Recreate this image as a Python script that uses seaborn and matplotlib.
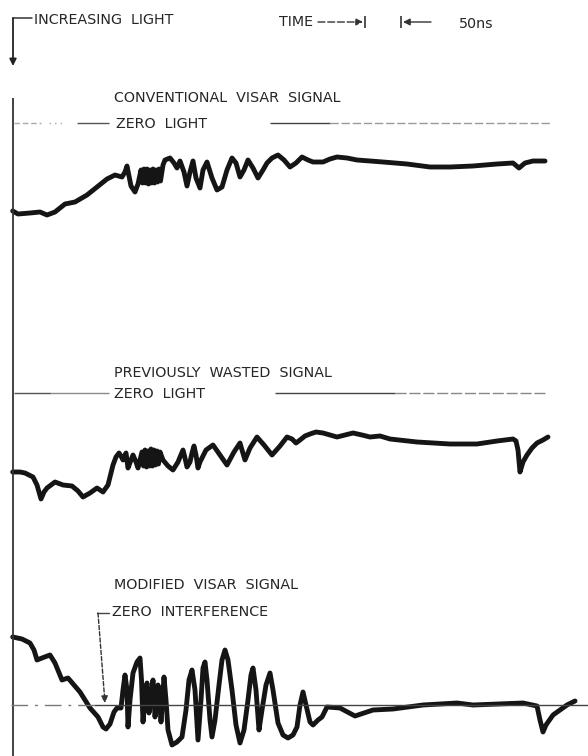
import matplotlib
matplotlib.use("Agg")
import matplotlib.pyplot as plt
import numpy as np
import pandas as pd
import seaborn as sns

# ---- traced signals (horizontal position, vertical level; level grows downward) ----
conv_t = [12.7, 18, 30, 40, 47, 55, 65, 75, 87, 97, 107, 115, 122, 125, 127, 129, 131, 135, 138,
          141, 142.5, 144, 145.5, 147, 148.5, 150, 151.5, 153, 154.5, 156, 157.5, 159, 160.5,
          163, 165, 170, 174, 177, 180, 184, 187, 190, 193, 196, 200, 203, 207, 212, 217, 222,
          227, 232, 236, 240, 244, 248, 253, 258, 263, 267, 272, 278, 284, 290, 296, 302, 308,
          313, 323, 330, 337, 347, 357, 383, 407, 430, 450, 473, 497, 513, 519, 525, 533, 545]
conv_v = [211, 214, 213, 212, 215, 212, 204, 202, 195, 187, 179, 175, 177, 172, 166, 176, 186, 192,
          184, 170, 183, 169, 183, 169, 184, 170, 183, 169, 183, 170, 182, 169, 181,
          165, 160, 158, 163, 168, 161, 172, 186, 172, 161, 178, 188, 170, 162, 178, 190, 187,
          170, 158, 163, 177, 170, 160, 168, 178, 170, 163, 158, 155, 160, 167, 163, 157, 160,
          162, 162, 159, 157, 158, 160, 162, 164, 167, 167, 166, 164, 163, 168, 163, 161, 161]

wasted_t = [12.7, 20, 25, 33, 37, 41, 44, 47, 55, 63, 72, 78, 83, 90, 97, 103, 108, 113, 116,
            119, 121, 123, 126, 128, 131, 133, 136, 138, 142, 143.5, 145, 146.5, 148, 149.5,
            151, 152.5, 154, 155.5, 157, 158.5, 160, 163, 168, 173, 178, 183, 185, 187, 190,
            192, 194, 196, 198, 200, 206, 213, 220, 227, 234, 240, 242, 245, 250, 257, 264,
            272, 280, 287, 292, 296, 300, 305, 310, 316, 323, 330, 337, 345, 353, 362, 370,
            380, 390, 417, 450, 477, 497, 513, 516, 518, 520, 523, 527, 532, 537, 543, 548]
wasted_v = [472, 472, 473, 477, 485, 499, 492, 488, 482, 485, 486, 491, 497, 493, 488, 492, 485,
            465, 457, 453, 456, 460, 453, 468, 460, 455, 462, 468, 452, 466, 450, 467, 451, 466,
            449, 466, 450, 465, 451, 464, 452, 460, 466, 470, 462, 450, 458, 467, 462, 453, 446,
            455, 468, 462, 450, 445, 455, 465, 452, 443, 450, 460, 448, 437, 445, 455, 446, 437,
            439, 443, 440, 436, 434, 432, 433, 435, 437, 435, 433, 435, 437, 436, 439, 442, 444,
            444, 441, 439, 441, 450, 472, 462, 455, 448, 443, 440, 437]

mod_t = [12.7, 22, 30, 34, 37, 42, 50, 55, 62, 68, 80, 90, 98, 103, 106, 110, 114, 117, 121,
         123, 125, 127, 128, 130, 133, 137, 140, 141.5, 143, 145, 147, 149, 151, 153, 155,
         157, 158, 160, 161, 162.5, 164, 166, 168, 172, 177, 182, 186, 189, 192, 195, 198,
         201, 203, 205, 207, 210, 212, 215, 219, 222, 225, 228, 232, 236, 240, 244, 248,
         251, 253, 256, 259, 262, 266, 270, 273, 278, 283, 288, 293, 297, 300, 303, 306,
         310, 313, 318, 322, 327, 340, 355, 373, 393, 423, 457, 473, 523, 537, 540, 543,
         546, 553, 567, 575]
mod_v = [637, 639, 643, 650, 660, 658, 655, 663, 680, 678, 692, 708, 717, 727, 729, 724, 712,
         708, 708, 690, 675, 690, 727, 700, 673, 662, 658, 680, 722, 700, 683, 713, 698, 680,
         717, 700, 685, 705, 722, 700, 677, 700, 730, 745, 742, 737, 710, 680, 670, 690, 740,
         700, 668, 662, 680, 720, 737, 720, 685, 660, 650, 660, 690, 725, 743, 730, 700,
         675, 668, 690, 730, 710, 685, 673, 690, 723, 735, 738, 735, 727, 705, 692, 705,
         722, 725, 720, 717, 707, 708, 716, 710, 709, 705, 703, 705, 703, 706, 720, 732,
         725, 715, 705, 701]

trace_names = ["CONVENTIONAL  VISAR  SIGNAL", "PREVIOUSLY  WASTED  SIGNAL", "MODIFIED  VISAR  SIGNAL"]
baseline_levels = [123, 393, 705]
title_levels = [98, 373, 585]

df = pd.concat([
    pd.DataFrame({"t": conv_t, "level": conv_v, "trace": trace_names[0]}),
    pd.DataFrame({"t": wasted_t, "level": wasted_v, "trace": trace_names[1]}),
    pd.DataFrame({"t": mod_t, "level": mod_v, "trace": trace_names[2]}),
], ignore_index=True)

sns.set_theme(style="white")
plt.rcParams["font.family"] = ["DejaVu Sans"]

fig = plt.figure(figsize=(5.88, 7.56), dpi=100)
ax = fig.add_axes([0, 0, 1, 1])
ax.set_xlim(0, 588)
ax.set_ylim(756, 0)
ax.axis("off")

INK = "#151515"
TXT = "#262626"
FS = 10.3

sns.lineplot(data=df, x="t", y="level", hue="trace", palette=[INK] * 3,
             sort=False, estimator=None, legend=False, linewidth=3.5, ax=ax,
             solid_joinstyle="round", solid_capstyle="round")

# vertical reference axis
ax.vlines(13, 98, 756, color="#333333", lw=1.3)

# "increasing light" bracket with downward arrow
ax.plot([13, 32], [18, 18], color="#333333", lw=1.1)
ax.annotate("", xy=(13, 66), xytext=(13, 18),
            arrowprops=dict(arrowstyle="-|>", color="#222222", lw=1.3,
                            mutation_scale=10, shrinkA=0, shrinkB=0))
ax.text(34, 20, "INCREASING  LIGHT", fontsize=FS, color=TXT, va="center", ha="left")

# time scale bar
ax.text(279, 22, "TIME", fontsize=FS, color=TXT, va="center", ha="left")
ax.annotate("", xy=(363, 22), xytext=(318, 22),
            arrowprops=dict(arrowstyle="-|>", color="#333333", lw=1.0, ls=(0, (5, 2)),
                            mutation_scale=10, shrinkA=0, shrinkB=0))
ax.vlines(365, 16, 28, color="#333333", lw=1.2)
ax.annotate("", xy=(403, 22), xytext=(431, 22),
            arrowprops=dict(arrowstyle="-|>", color="#333333", lw=1.0,
                            mutation_scale=10, shrinkA=0, shrinkB=0))
ax.vlines(401, 16, 28, color="#333333", lw=1.2)
ax.text(459, 24, "50ns", fontsize=FS, color=TXT, va="center", ha="left")

# zero-light reference lines
y0 = baseline_levels[0]
ax.hlines(y0, 14, 41, color="#aaaaaa", lw=1.0, linestyles=(0, (4, 2)))
ax.hlines(y0, 49, 62, color="#aaaaaa", lw=1.0, linestyles=(0, (1, 3)))
ax.hlines(y0, 77, 109, color="#555555", lw=1.0)
ax.hlines(y0, 270, 330, color="#444444", lw=1.0)
ax.hlines(y0, 330, 551, color="#9a9a9a", lw=1.0, linestyles=(0, (6, 2)))

y1 = baseline_levels[1]
ax.hlines(y1, 14, 51, color="#555555", lw=1.0)
ax.hlines(y1, 51, 109, color="#8a8a8a", lw=1.0)
ax.hlines(y1, 275, 395, color="#444444", lw=1.0)
ax.hlines(y1, 395, 547, color="#888888", lw=1.0, linestyles=(0, (8, 2)))

y2 = baseline_levels[2]
ax.hlines(y2, 11, 94, color="#777777", lw=1.0, linestyles=(0, (12, 5, 2, 5)))
ax.hlines(y2, 94, 588, color="#444444", lw=1.0)

# labels
ax.text(114, title_levels[0], trace_names[0], fontsize=FS, color=TXT, va="center", ha="left")
ax.text(116, y0 + 1, "ZERO  LIGHT", fontsize=FS, color=TXT, va="center", ha="left")
ax.text(114, title_levels[1], trace_names[1], fontsize=FS, color=TXT, va="center", ha="left")
ax.text(114, y1 + 1, "ZERO  LIGHT", fontsize=FS, color=TXT, va="center", ha="left")
ax.text(114, title_levels[2], trace_names[2], fontsize=FS, color=TXT, va="center", ha="left")
ax.text(112, 612, "ZERO  INTERFERENCE", fontsize=FS, color=TXT, va="center", ha="left")

# pointer from the zero-interference label down to the baseline
ax.plot([97, 109], [613, 613], color="#444444", lw=1.0)
ax.annotate("", xy=(105, y2 - 2), xytext=(98, 613),
            arrowprops=dict(arrowstyle="-|>", color="#333333", lw=1.0, ls=(0, (3, 1.5)),
                            mutation_scale=10, shrinkA=0, shrinkB=0))

fig.savefig("out.png", dpi=100, facecolor="white")
